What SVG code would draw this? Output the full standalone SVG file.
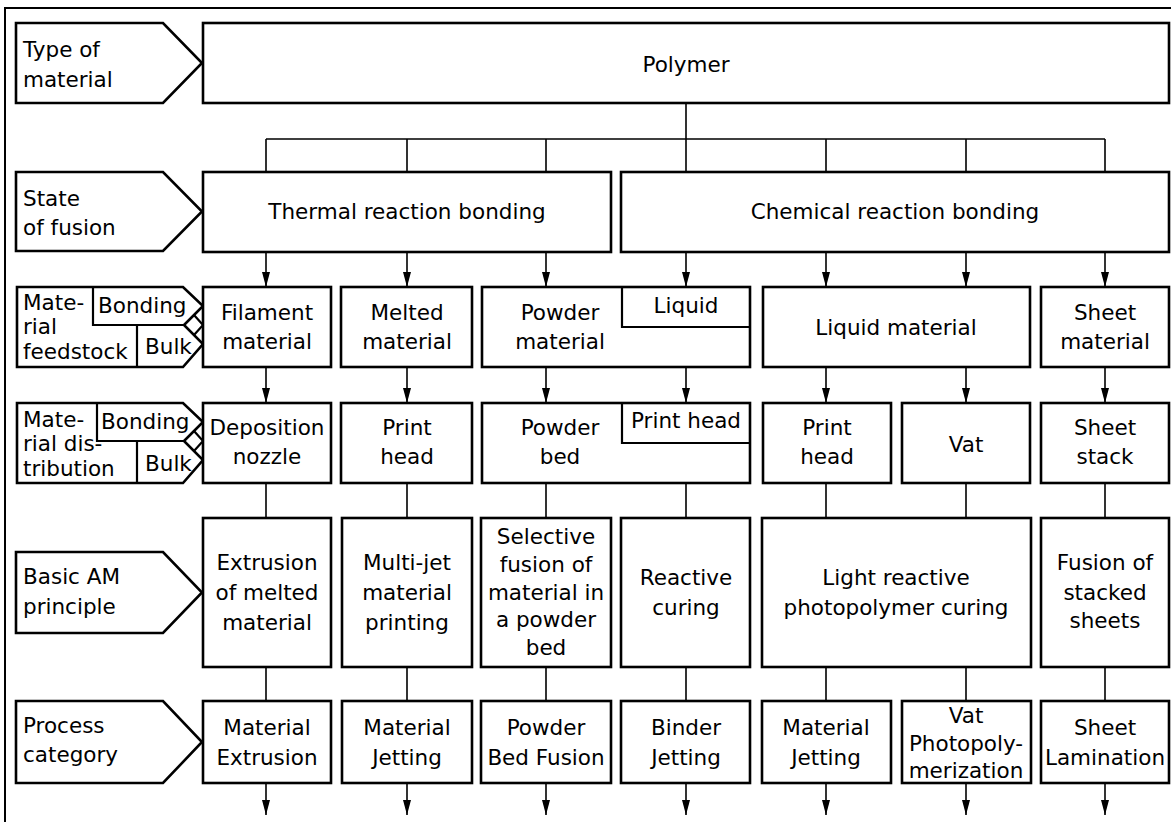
<svg xmlns="http://www.w3.org/2000/svg" width="1171" height="822" viewBox="0 0 1171 822">
  <defs>
    <marker id="arrow" viewBox="0 0 15 8" refX="15" refY="4" markerWidth="15" markerHeight="8" markerUnits="userSpaceOnUse" orient="auto">
      <path d="M0,0 L15,4 L0,8 Z" fill="#000"/>
    </marker>
    <style>
      .frame { fill: none; stroke: #000; stroke-width: 2; }
      .box { fill: #fff; stroke: #000; stroke-width: 2.6; }
      .lbl { fill: #fff; stroke: #000; stroke-width: 2.6; stroke-linejoin: miter; }
      .inner { fill: none; stroke: #000; stroke-width: 2.2; }
      .con { fill: none; stroke: #000; stroke-width: 1.6; }
      .arr { fill: none; stroke: #000; stroke-width: 1.6; marker-end: url(#arrow); }
      text { font-family: "DejaVu Sans", Verdana, sans-serif; font-size: 21.5px; fill: #000; }
      .c { text-anchor: middle; }
    </style>
  </defs>

  <rect class="frame" x="5" y="8" width="1180" height="830"/>

  <!-- row labels -->
  <g id="label-type">
    <path class="lbl" d="M16,23 H163 L202,63 L163,103 H16 Z"/>
    <text x="23" y="57">Type of</text>
    <text x="23" y="87">material</text>
  </g>
  <g id="label-state">
    <path class="lbl" d="M16,172 H163 L202,211.5 L163,251 H16 Z"/>
    <text x="23" y="206">State</text>
    <text x="23" y="235">of fusion</text>
  </g>
  <g id="label-feedstock">
    <path class="lbl" d="M17,287 H183 L203,306 L184,325 L203,344 L183,367 H17 Z"/>
    <path class="inner" d="M93,287 V325 H184 M137,325 V367 M194,315 L203,325 L194,335"/>
    <text x="23" y="310">Mate-</text>
    <text x="23" y="334">rial</text>
    <text x="23" y="359">feedstock</text>
    <text x="98" y="313">Bonding</text>
    <text x="145" y="354">Bulk</text>
  </g>
  <g id="label-distribution">
    <path class="lbl" d="M17,403 H183 L203,422 L184,441 L203,460 L183,483 H17 Z"/>
    <path class="inner" d="M97,403 V441 H184 M137,441 V483 M194,431 L203,441 L194,451"/>
    <text x="23" y="427">Mate-</text>
    <text x="23" y="451">rial dis-</text>
    <text x="23" y="476">tribution</text>
    <text x="101" y="429">Bonding</text>
    <text x="145" y="471">Bulk</text>
  </g>
  <g id="label-principle">
    <path class="lbl" d="M16,552 H163 L202,592.5 L163,633 H16 Z"/>
    <text x="23" y="584">Basic AM</text>
    <text x="23" y="614">principle</text>
  </g>
  <g id="label-category">
    <path class="lbl" d="M16,701 H163 L202,742 L163,783 H16 Z"/>
    <text x="23" y="733">Process</text>
    <text x="23" y="762">category</text>
  </g>

  <!-- connectors -->
  <g id="connectors">
    <path class="con" d="M686,103 V139 M266,139 H1105 M266,139 V172 M407,139 V172 M546,139 V172 M686,139 V172 M826,139 V172 M966,139 V172 M1105,139 V172"/>
    <path class="arr" d="M266,252 V287"/>
    <path class="arr" d="M407,252 V287"/>
    <path class="arr" d="M546,252 V287"/>
    <path class="arr" d="M686,252 V287"/>
    <path class="arr" d="M826,252 V287"/>
    <path class="arr" d="M966,252 V287"/>
    <path class="arr" d="M1105,252 V287"/>
    <path class="arr" d="M266,367 V403"/>
    <path class="arr" d="M407,367 V403"/>
    <path class="arr" d="M546,367 V403"/>
    <path class="arr" d="M686,367 V403"/>
    <path class="arr" d="M826,367 V403"/>
    <path class="arr" d="M966,367 V403"/>
    <path class="arr" d="M1105,367 V403"/>
    <path class="con" d="M266,483 V518 M407,483 V518 M546,483 V518 M686,483 V518 M826,483 V518 M966,483 V518 M1105,483 V518"/>
    <path class="con" d="M266,667 V701 M407,667 V701 M546,667 V701 M686,667 V701 M826,667 V701 M966,667 V701 M1105,667 V701"/>
    <path class="arr" d="M266,783 V815"/>
    <path class="arr" d="M407,783 V815"/>
    <path class="arr" d="M546,783 V815"/>
    <path class="arr" d="M686,783 V815"/>
    <path class="arr" d="M826,783 V815"/>
    <path class="arr" d="M966,783 V815"/>
    <path class="arr" d="M1105,783 V815"/>
  </g>

  <!-- type of material -->
  <g id="polymer">
    <rect class="box" x="203" y="23" width="966" height="80"/>
    <text class="c" x="686" y="72">Polymer</text>
  </g>

  <!-- state of fusion -->
  <g id="thermal">
    <rect class="box" x="203" y="172" width="408" height="80"/>
    <text class="c" x="407" y="219">Thermal reaction bonding</text>
  </g>
  <g id="chemical">
    <rect class="box" x="621" y="172" width="548" height="80"/>
    <text class="c" x="895" y="219">Chemical reaction bonding</text>
  </g>

  <!-- material feedstock -->
  <g id="filament">
    <rect class="box" x="203" y="287" width="128" height="80"/>
    <text class="c" x="267" y="320">Filament</text>
    <text class="c" x="267" y="349">material</text>
  </g>
  <g id="melted">
    <rect class="box" x="341" y="287" width="131" height="80"/>
    <text class="c" x="407" y="320">Melted</text>
    <text class="c" x="407" y="349">material</text>
  </g>
  <g id="powder-material">
    <rect class="box" x="482" y="287" width="268" height="80"/>
    <path class="inner" d="M622,287 V327 H750"/>
    <text class="c" x="560" y="320">Powder</text>
    <text class="c" x="560" y="349">material</text>
    <text class="c" x="686" y="313">Liquid</text>
  </g>
  <g id="liquid-material">
    <rect class="box" x="763" y="287" width="267" height="80"/>
    <text class="c" x="896" y="335">Liquid material</text>
  </g>
  <g id="sheet-material">
    <rect class="box" x="1041" y="287" width="128" height="80"/>
    <text class="c" x="1105" y="320">Sheet</text>
    <text class="c" x="1105" y="349">material</text>
  </g>

  <!-- material distribution -->
  <g id="deposition-nozzle">
    <rect class="box" x="203" y="403" width="128" height="80"/>
    <text class="c" x="267" y="435">Deposition</text>
    <text class="c" x="267" y="464">nozzle</text>
  </g>
  <g id="print-head-1">
    <rect class="box" x="341" y="403" width="131" height="80"/>
    <text class="c" x="407" y="435">Print</text>
    <text class="c" x="407" y="464">head</text>
  </g>
  <g id="powder-bed">
    <rect class="box" x="482" y="403" width="268" height="80"/>
    <path class="inner" d="M622,403 V443 H750"/>
    <text class="c" x="560" y="435">Powder</text>
    <text class="c" x="560" y="464">bed</text>
    <text class="c" x="686" y="428">Print head</text>
  </g>
  <g id="print-head-2">
    <rect class="box" x="763" y="403" width="128" height="80"/>
    <text class="c" x="827" y="435">Print</text>
    <text class="c" x="827" y="464">head</text>
  </g>
  <g id="vat">
    <rect class="box" x="902" y="403" width="128" height="80"/>
    <text class="c" x="966" y="452">Vat</text>
  </g>
  <g id="sheet-stack">
    <rect class="box" x="1041" y="403" width="128" height="80"/>
    <text class="c" x="1105" y="435">Sheet</text>
    <text class="c" x="1105" y="464">stack</text>
  </g>

  <!-- basic AM principle -->
  <g id="extrusion">
    <rect class="box" x="203" y="518" width="128" height="149"/>
    <text class="c" x="267" y="570">Extrusion</text>
    <text class="c" x="267" y="600">of melted</text>
    <text class="c" x="267" y="630">material</text>
  </g>
  <g id="multi-jet">
    <rect class="box" x="342" y="518" width="130" height="149"/>
    <text class="c" x="407" y="570">Multi-jet</text>
    <text class="c" x="407" y="600">material</text>
    <text class="c" x="407" y="630">printing</text>
  </g>
  <g id="selective-fusion">
    <rect class="box" x="481" y="518" width="130" height="149"/>
    <text class="c" x="546" y="544">Selective</text>
    <text class="c" x="546" y="572">fusion of</text>
    <text class="c" x="546" y="600">material in</text>
    <text class="c" x="546" y="627">a powder</text>
    <text class="c" x="546" y="655">bed</text>
  </g>
  <g id="reactive-curing">
    <rect class="box" x="621" y="518" width="129" height="149"/>
    <text class="c" x="686" y="585">Reactive</text>
    <text class="c" x="686" y="615">curing</text>
  </g>
  <g id="photopolymer-curing">
    <rect class="box" x="762" y="518" width="269" height="149"/>
    <text class="c" x="896" y="585">Light reactive</text>
    <text class="c" x="896" y="615">photopolymer curing</text>
  </g>
  <g id="stacked-sheets">
    <rect class="box" x="1041" y="518" width="128" height="149"/>
    <text class="c" x="1105" y="570">Fusion of</text>
    <text class="c" x="1105" y="600">stacked</text>
    <text class="c" x="1105" y="628">sheets</text>
  </g>

  <!-- process category -->
  <g id="material-extrusion">
    <rect class="box" x="203" y="701" width="128" height="82"/>
    <text class="c" x="267" y="735">Material</text>
    <text class="c" x="267" y="765">Extrusion</text>
  </g>
  <g id="material-jetting-1">
    <rect class="box" x="342" y="701" width="130" height="82"/>
    <text class="c" x="407" y="735">Material</text>
    <text class="c" x="407" y="765">Jetting</text>
  </g>
  <g id="powder-bed-fusion">
    <rect class="box" x="481" y="701" width="130" height="82"/>
    <text class="c" x="546" y="735">Powder</text>
    <text class="c" x="546" y="765">Bed Fusion</text>
  </g>
  <g id="binder-jetting">
    <rect class="box" x="621" y="701" width="129" height="82"/>
    <text class="c" x="686" y="735">Binder</text>
    <text class="c" x="686" y="765">Jetting</text>
  </g>
  <g id="material-jetting-2">
    <rect class="box" x="762" y="701" width="129" height="82"/>
    <text class="c" x="826" y="735">Material</text>
    <text class="c" x="826" y="765">Jetting</text>
  </g>
  <g id="vat-photopolymerization">
    <rect class="box" x="902" y="701" width="129" height="82"/>
    <text class="c" x="966" y="723">Vat</text>
    <text class="c" x="966" y="751">Photopoly-</text>
    <text class="c" x="966" y="778">merization</text>
  </g>
  <g id="sheet-lamination">
    <rect class="box" x="1041" y="701" width="128" height="82"/>
    <text class="c" x="1105" y="735">Sheet</text>
    <text class="c" x="1105" y="765">Lamination</text>
  </g>
</svg>
